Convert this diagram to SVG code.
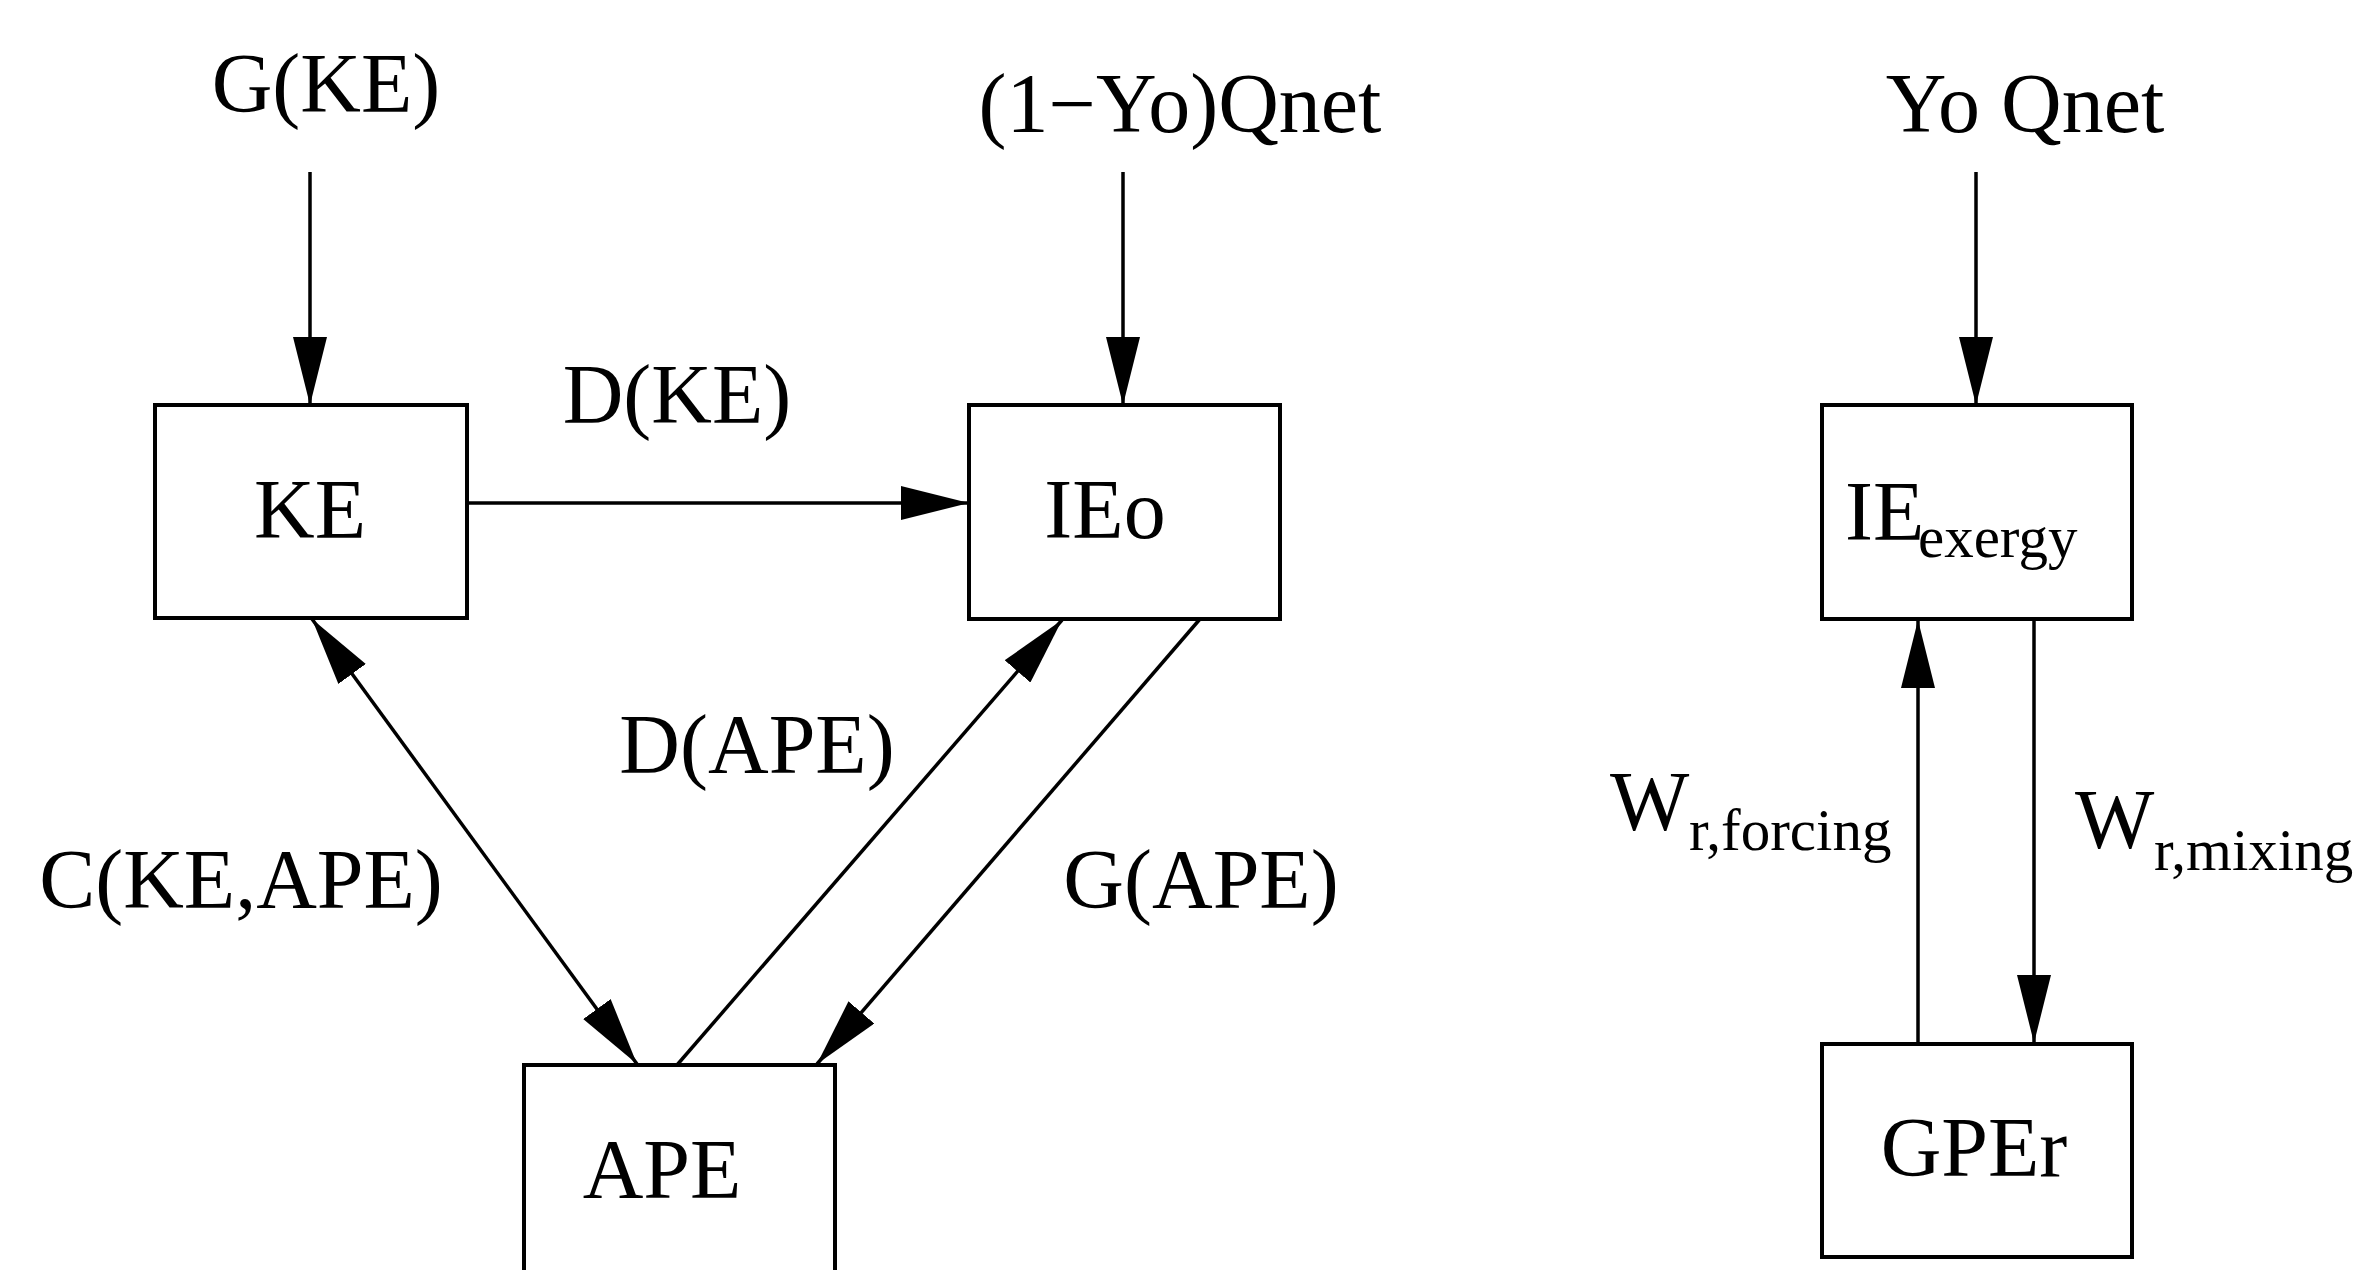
<svg xmlns="http://www.w3.org/2000/svg" width="2365" height="1270" viewBox="0 0 2365 1270">
  <style>
    .box { fill: #ffffff; stroke: #000000; stroke-width: 4; }
    .lbl { font-family: "Liberation Serif", "Times New Roman", serif; font-size: 84px; fill: #000000; }
    .mid { text-anchor: middle; }
    .sub { font-size: 59px; }
    .edge { stroke: #000000; stroke-width: 3.5; fill: none; }
  </style>
  <defs>
    <marker id="ah" viewBox="0 0 68 34" refX="68" refY="17" markerWidth="68" markerHeight="34" markerUnits="userSpaceOnUse" orient="auto-start-reverse">
      <path d="M0,0 L68,17 L0,34 z" fill="#000000"/>
    </marker>
  </defs>
  <rect width="2365" height="1270" fill="#ffffff"/>

  <g id="connectors">
    <line class="edge" x1="310" y1="172" x2="310" y2="405" marker-end="url(#ah)"/>
    <line class="edge" x1="1123" y1="172" x2="1123" y2="405" marker-end="url(#ah)"/>
    <line class="edge" x1="1976" y1="172" x2="1976" y2="405" marker-end="url(#ah)"/>
    <line class="edge" x1="467" y1="503" x2="969" y2="503" marker-end="url(#ah)"/>
    <line class="edge" x1="312" y1="619" x2="637" y2="1064" marker-start="url(#ah)" marker-end="url(#ah)"/>
    <line class="edge" x1="677" y1="1065" x2="1062" y2="620" marker-end="url(#ah)"/>
    <line class="edge" x1="1200" y1="619" x2="817" y2="1064" marker-end="url(#ah)"/>
    <line class="edge" x1="1918" y1="1044" x2="1918" y2="620" marker-end="url(#ah)"/>
    <line class="edge" x1="2034" y1="619" x2="2034" y2="1043" marker-end="url(#ah)"/>
  </g>

  <g id="labels">
    <text class="lbl mid" x="326" y="112">G(KE)</text>
    <text class="lbl mid" x="1180" y="132">(1−Yo)Qnet</text>
    <text class="lbl mid" x="2025" y="132">Yo Qnet</text>
    <text class="lbl mid" x="677" y="423">D(KE)</text>
    <text class="lbl mid" x="241" y="908">C(KE,APE)</text>
    <text class="lbl mid" x="757" y="773">D(APE)</text>
    <text class="lbl mid" x="1201" y="908">G(APE)</text>
    <text class="lbl" x="1610" y="830">W<tspan class="sub" x="1689" y="850">r,forcing</tspan></text>
    <text class="lbl" x="2075" y="848">W<tspan class="sub" x="2154" y="870">r,mixing</tspan></text>
  </g>

  <g id="node-KE">
    <rect class="box" x="155" y="405" width="312" height="213"/>
    <text class="lbl mid" x="310" y="538">KE</text>
  </g>
  <g id="node-IEo">
    <rect class="box" x="969" y="405" width="311" height="214"/>
    <text class="lbl mid" x="1105" y="538">IEo</text>
  </g>
  <g id="node-APE">
    <rect class="box" x="524" y="1065" width="311" height="230"/>
    <text class="lbl mid" x="662" y="1198">APE</text>
  </g>
  <g id="node-IEexergy">
    <rect class="box" x="1822" y="405" width="310" height="214"/>
    <text class="lbl" x="1845" y="540">IE<tspan class="sub" x="1918" y="557">exergy</tspan></text>
  </g>
  <g id="node-GPEr">
    <rect class="box" x="1822" y="1044" width="310" height="213"/>
    <text class="lbl mid" x="1974" y="1176">GPEr</text>
  </g>
</svg>
